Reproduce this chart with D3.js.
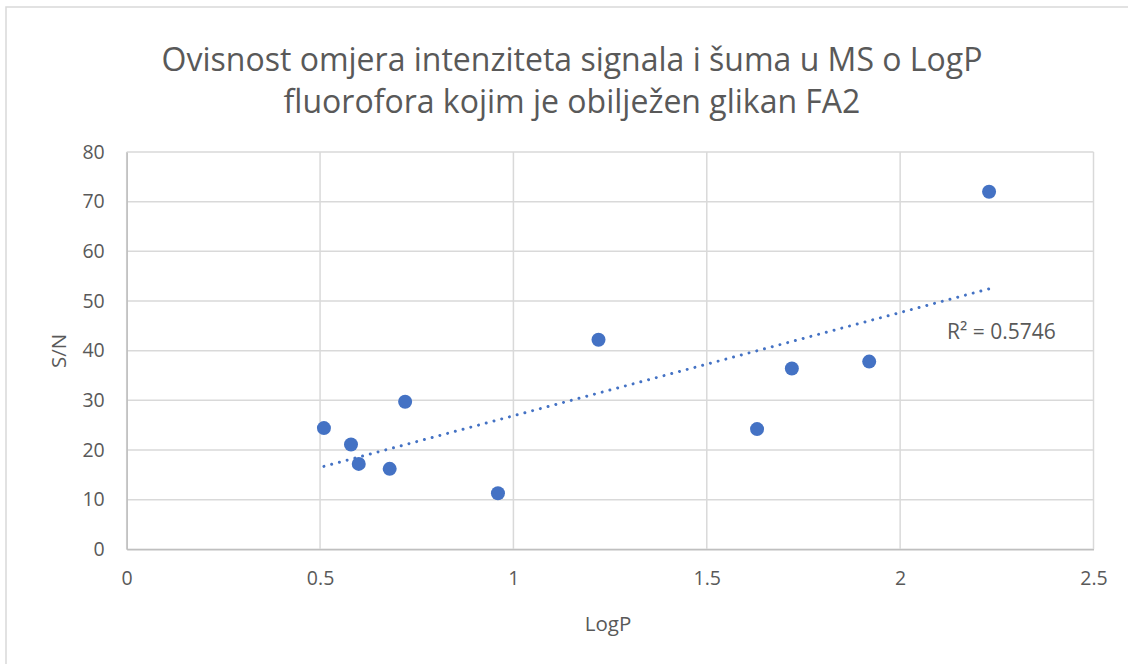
<!DOCTYPE html>
<html><head><meta charset="utf-8">
<script src="https://cdn.jsdelivr.net/npm/d3@7"></script>
<style>
body{margin:0;background:#fff;}
svg{display:block;}
text{font-family:"Open Sans","Noto Sans",sans-serif;fill:#595959;}
</style></head>
<body>
<svg id="c" width="1128" height="664"></svg>
<script>
const titleLines = ["Ovisnost omjera intenziteta signala i šuma u MS o LogP", "fluorofora kojim je obilježen glikan FA2"];
const xLabel = "LogP";
const yLabel = "S/N";
const logP = [0.51, 0.58, 0.60, 0.68, 0.72, 0.96, 1.22, 1.63, 1.72, 1.92, 2.23];
const sn   = [24.4, 21.1, 17.2, 16.2, 29.7, 11.3, 42.2, 24.2, 36.4, 37.8, 72.0];
const xTicks = [0, 0.5, 1, 1.5, 2, 2.5];
const yTicks = [0, 10, 20, 30, 40, 50, 60, 70, 80];
const r2Label = "R² = 0.5746";

const svg = d3.select("#c");
const m = {l:126.7, r:1093.5, t:152, b:549.3};
const x = d3.scaleLinear().domain([0, 2.5]).range([m.l, m.r]);
const y = d3.scaleLinear().domain([0, 80]).range([m.b, m.t]);

// chart border
svg.append("rect").attr("x",6).attr("y",7).attr("width",1130).attr("height",670)
  .attr("fill","none").attr("stroke","#d9d9d9").attr("stroke-width",1.5);

// title
svg.append("text").attr("text-anchor","middle").attr("x",572).attr("y",71)
  .style("font-size","32px").style("font-weight","400").text(titleLines[0]);
svg.append("text").attr("text-anchor","middle").attr("x",572).attr("y",113)
  .style("font-size","32px").style("font-weight","400").text(titleLines[1]);

// gridlines
const g = svg.append("g");
g.selectAll(".hg").data(yTicks).join("line")
  .attr("x1",m.l).attr("x2",m.r).attr("y1",d=>y(d)).attr("y2",d=>y(d))
  .attr("stroke","#d9d9d9").attr("stroke-width",1.5);
g.selectAll(".vg").data(xTicks).join("line")
  .attr("y1",m.t).attr("y2",m.b).attr("x1",d=>x(d)).attr("x2",d=>x(d))
  .attr("stroke","#d9d9d9").attr("stroke-width",1.5);

// axes
const xAxis = svg.append("g").attr("transform",`translate(0,${m.b})`)
  .call(d3.axisBottom(x).tickValues(xTicks).tickSize(0).tickPadding(22).tickFormat(d3.format("")));
const yAxis = svg.append("g").attr("transform",`translate(${m.l},0)`)
  .call(d3.axisLeft(y).tickValues(yTicks).tickSize(0).tickPadding(22));
[xAxis,yAxis].forEach(a=>{
  a.select(".domain").attr("stroke","#bfbfbf").attr("stroke-width",1.5);
  a.selectAll("text").style("font-size","19.5px").style("fill","#595959").style("font-family","'Open Sans',sans-serif");
});

// axis labels
svg.append("text").attr("text-anchor","middle").attr("x",608).attr("y",631)
  .style("font-size","20.5px").text(xLabel);
svg.append("text").attr("text-anchor","middle")
  .attr("transform","translate(66,351) rotate(-90)")
  .style("font-size","20.5px").text(yLabel);

// trendline (least squares)
const n = logP.length;
const mx = d3.mean(logP), my = d3.mean(sn);
let sxy=0, sxx=0;
for(let i=0;i<n;i++){ sxy+=(logP[i]-mx)*(sn[i]-my); sxx+=(logP[i]-mx)**2; }
const slope = sxy/sxx, icpt = my - slope*mx;
const [x0,x1] = d3.extent(logP);
const X0 = x(x0), Y0 = y(icpt+slope*x0), X1 = x(x1), Y1 = y(icpt+slope*x1);
const L = Math.hypot(X1-X0, Y1-Y0);
const gap = (L - 0.5) / Math.round(L/8);
svg.append("line")
  .attr("x1",X0).attr("y1",Y0).attr("x2",X1).attr("y2",Y1)
  .attr("stroke","#4472c4").attr("stroke-width",3)
  .attr("stroke-linecap","round").attr("stroke-dasharray",`0.01 ${gap-0.01}`);

// points
svg.selectAll(".pt").data(logP.map((v,i)=>[v,sn[i]])).join("circle")
  .attr("cx",d=>x(d[0])).attr("cy",d=>y(d[1])).attr("r",7)
  .attr("fill","#4472c4");

// R2 label
svg.append("text").attr("x",947).attr("y",339).style("font-size","21px").text(r2Label);
</script>
</body></html>
